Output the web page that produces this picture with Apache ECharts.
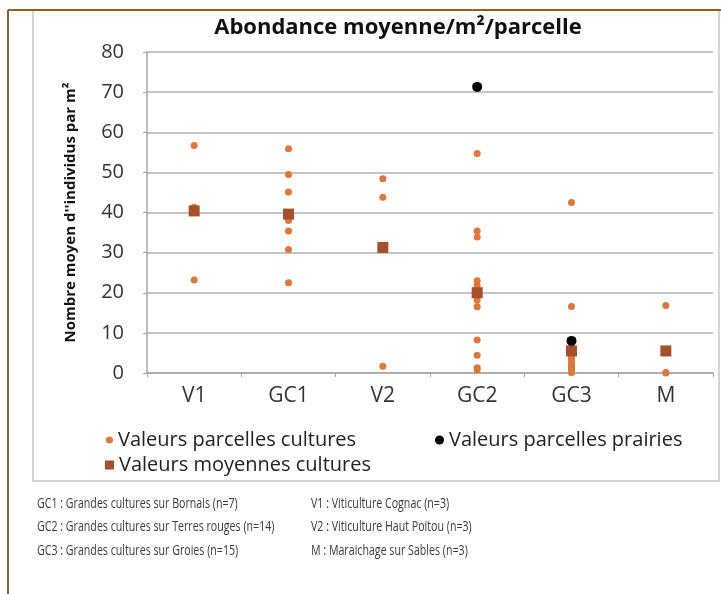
<!DOCTYPE html>
<html>
<head>
<meta charset="utf-8">
<script src="https://cdn.jsdelivr.net/npm/echarts@6/dist/echarts.min.js"></script>
<style>
  html, body { margin: 0; padding: 0; background: #fff; }
  #chart { width: 721px; height: 594px; }
</style>
</head>
<body>
<div id="chart"></div>
<script>
// categories (x axis)
const categories = ['V1', 'GC1', 'V2', 'GC2', 'GC3', 'M'];

// valeurs parcelles cultures, par catégorie
const culturesV1 = [56.7, 41.3, 23.2];
const culturesGC1 = [55.9, 49.5, 45.1, 38.0, 35.4, 30.8, 22.5];
const culturesV2 = [48.4, 43.8, 1.7];
const culturesGC2 = [54.7, 35.4, 33.9, 23.0, 21.8, 20.6, 19.6, 19.2, 18.1, 16.5, 8.2, 4.4, 1.3, 0.8];
const culturesGC3 = [42.5, 16.6, 6.4, 5.0, 4.2, 3.4, 2.7, 2.0, 1.5, 1.1, 0.8, 0.5, 0.3, 0.2, 0.1];
const culturesM = [16.8, 0.1, 0.0];

// valeurs parcelles prairies
const prairies = [null, null, null, 71.3, 8.0, null];

// valeurs moyennes cultures
const moyennes = [40.4, 39.6, 31.3, 20.0, 5.5, 5.5];

const yTicks = { min: 0, max: 80, interval: 10 };

const footLeft = [
  'GC1 : Grandes cultures sur Bornais (n=7)',
  'GC2 : Grandes cultures sur Terres rouges (n=14)',
  'GC3 : Grandes cultures sur Groies (n=15)'
];
const footRight = [
  'V1 : Viticulture Cognac (n=3)',
  'V2 : Viticulture Haut Poitou (n=3)',
  'M : Maraichage sur Sables (n=3)'
];

const culturesByCat = [culturesV1, culturesGC1, culturesV2, culturesGC2, culturesGC3, culturesM];
const culturesData = [];
culturesByCat.forEach((vals, i) => {
  vals.forEach(v => culturesData.push([categories[i], v]));
});
const prairiesData = prairies
  .map((v, i) => [categories[i], v])
  .filter(d => d[1] !== null);
const moyennesData = moyennes.map((v, i) => [categories[i], v]);

const FONT = '"Open Sans", "Liberation Sans", sans-serif';
const chart = echarts.init(document.getElementById('chart'), null, { renderer: 'canvas' });

// notes sous le graphique (police étroite simulée par scaleX)
const footGraphics = [];
function addFoot(lines, x) {
  lines.forEach((t, i) => {
    footGraphics.push({
      type: 'text', x: x, y: 497 + i * 23.5, scaleX: 0.76,
      style: { text: t, font: '14px ' + FONT, fill: '#3a3a3a' }
    });
  });
}
addFoot(footLeft, 37);
addFoot(footRight, 311);

const legendText = { fontSize: 20, color: '#222', fontFamily: FONT };

chart.setOption({
  backgroundColor: '#fff',
  animation: false,
  title: {
    text: 'Abondance moyenne/m²/parcelle',
    left: 393, top: 12, textAlign: 'center',
    textStyle: { fontSize: 22, fontWeight: 'bold', color: '#111', fontFamily: FONT }
  },
  grid: { left: 147, right: 8, top: 52, bottom: 221 },
  legend: [
    { data: ['Valeurs parcelles cultures'], left: 101, top: 425, icon: 'circle',
      itemWidth: 7, itemHeight: 7, itemGap: 5, textStyle: legendText },
    { data: ['Valeurs parcelles prairies'], left: 430, top: 425, icon: 'circle',
      itemWidth: 9, itemHeight: 9, itemGap: 4, textStyle: legendText },
    { data: ['Valeurs moyennes cultures'], left: 100, top: 450, icon: 'rect',
      itemWidth: 9, itemHeight: 9, itemGap: 5, textStyle: legendText }
  ],
  xAxis: {
    type: 'category',
    data: categories,
    boundaryGap: true,
    axisLine: { lineStyle: { color: '#a6a6a6', width: 1.5 } },
    axisTick: { show: true, length: 4, lineStyle: { color: '#a6a6a6' } },
    axisLabel: { fontSize: 21, color: '#333', margin: 13, fontFamily: FONT },
    splitLine: { show: false }
  },
  yAxis: {
    type: 'value',
    min: yTicks.min, max: yTicks.max, interval: yTicks.interval,
    name: "Nombre moyen d''individus par m²",
    nameLocation: 'middle',
    nameGap: 69,
    nameRotate: 90,
    nameTextStyle: { fontSize: 15, fontWeight: 'bold', color: '#111', fontFamily: FONT },
    axisLine: { show: true, lineStyle: { color: '#a6a6a6', width: 1.5 } },
    axisTick: { show: true, length: 4, lineStyle: { color: '#a6a6a6' } },
    axisLabel: { fontSize: 20, color: '#333', margin: 23, fontFamily: FONT },
    splitLine: { lineStyle: { color: '#c4c4c4', width: 2 } }
  },
  series: [
    {
      name: 'Valeurs parcelles cultures', type: 'scatter',
      symbol: 'circle', symbolSize: 7,
      itemStyle: { color: '#e0773a', opacity: 1 },
      data: culturesData, z: 2
    },
    {
      name: 'Valeurs moyennes cultures', type: 'scatter',
      symbol: 'rect', symbolSize: 11,
      itemStyle: { color: '#a5502a', opacity: 1 },
      data: moyennesData, z: 3
    },
    {
      name: 'Valeurs parcelles prairies', type: 'scatter',
      symbol: 'circle', symbolSize: 10,
      itemStyle: { color: '#000', opacity: 1 },
      data: prairiesData, z: 4
    }
  ],
  graphic: [
    { type: 'rect', silent: true, z: -1,
      shape: { x: 33, y: 10, width: 686, height: 471 },
      style: { fill: 'none', stroke: '#c8c8c8', lineWidth: 1.5 } },
    { type: 'line', silent: true,
      shape: { x1: 8, y1: 10, x2: 721, y2: 10 },
      style: { stroke: '#86652b', lineWidth: 2 } },
    { type: 'line', silent: true,
      shape: { x1: 8, y1: 10, x2: 8, y2: 594 },
      style: { stroke: '#86652b', lineWidth: 2 } }
  ].concat(footGraphics)
});
</script>
</body>
</html>
